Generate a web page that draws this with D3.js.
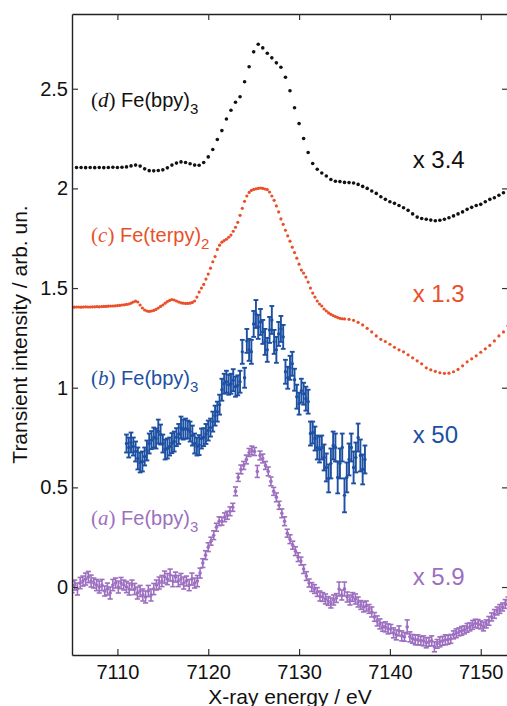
<!DOCTYPE html>
<html>
<head>
<meta charset="utf-8">
<title>Transient XANES</title>
<script src="https://cdnjs.cloudflare.com/ajax/libs/d3/7.8.5/d3.min.js"></script>
<style>
  body { margin: 0; background: #fff; }
</style>
</head>
<body>
<script>
// scan grids (eV): first energy and step
var gridD = {start: 7105.5, step: 0.5};
var gridCFine = {start: 7105, step: 0.25};
var gridCCoarse = {start: 7135.5, step: 0.5};
var gridB = {start: 7111, step: 0.25};
var gridA = {start: 7105, step: 0.3};

// (d) Fe(bpy)3, scaled x 3.4, offset
var dVals = [
  2.105,2.105,2.104,2.105,2.104,2.105,2.104,2.105,2.106,2.105,
  2.106,2.108,2.113,2.117,2.112,2.098,2.089,2.088,2.09,2.093,
  2.103,2.117,2.127,2.133,2.13,2.124,2.117,2.116,2.13,2.158,
  2.195,2.245,2.29,2.348,2.392,2.432,2.46,2.535,2.61,2.685,
  2.723,2.705,2.678,2.655,2.63,2.608,2.558,2.49,2.405,2.325,
  2.25,2.18,2.125,2.096,2.077,2.062,2.045,2.036,2.034,2.03,
  2.029,2.027,2.02,2.01,2.0,1.987,1.975,1.958,1.945,1.933,
  1.925,1.914,1.903,1.89,1.872,1.856,1.849,1.845,1.841,1.838,
  1.84,1.845,1.853,1.862,1.872,1.882,1.895,1.905,1.914,1.92,
  1.933,1.945,1.953,1.966,1.978
];

// (c) Fe(terpy)2, scaled x 1.3
var cFine = [
  1.405,1.404,1.405,1.405,1.404,1.405,1.406,1.405,1.405,1.406,
  1.406,1.407,1.406,1.407,1.408,1.408,1.409,1.41,1.41,1.411,
  1.412,1.413,1.415,1.416,1.418,1.42,1.424,1.43,1.434,1.43,
  1.415,1.40,1.39,1.385,1.383,1.385,1.388,1.393,1.40,1.408,
  1.415,1.424,1.432,1.438,1.442,1.44,1.435,1.43,1.426,1.424,
  1.423,1.423,1.424,1.428,1.435,1.455,
  1.48,1.50,1.518,1.545,1.57,1.60,1.632,1.658,1.694,1.715,
  1.73,1.738,1.745,1.755,1.766,1.785,1.805,1.83,1.865,1.90,
  1.935,1.962,1.98,1.99,1.995,1.998,2.0,2.002,2.0,1.997,
  1.994,1.982,1.962,1.94,1.912,1.882,1.847,1.82,1.79,1.762,
  1.735,1.705,1.678,1.65,1.62,1.59,1.575,1.555,1.53,1.50,
  1.475,1.455,1.435,1.42,1.41,1.395,1.385,1.375,1.368,1.362,
  1.357,1.352,1.348,1.346,1.345
];
var cCoarse = [
  1.343,1.338,1.328,1.315,1.298,1.28,1.26,1.243,1.232,1.218,
  1.203,1.19,1.18,1.165,1.15,1.135,1.12,1.10,1.09,1.082,
  1.075,1.072,1.073,1.08,1.092,1.11,1.13,1.145,1.16,1.178,
  1.195,1.212,1.235,1.26,1.28,1.31
];

// (b) Fe(bpy)3, scaled x 50
var bVals = [
  0.72,0.70,0.725,0.705,0.68,0.645,0.625,0.63,0.655,0.685,
  0.72,0.737,0.75,0.745,0.78,0.765,0.72,0.69,0.695,0.705,
  0.722,0.73,0.752,0.768,0.80,0.79,0.795,0.79,0.78,0.76,
  0.72,0.705,0.712,0.745,0.752,0.768,0.785,0.80,0.83,0.86,
  0.88,0.915,0.99,1.02,1.03,1.015,1.02,1.038,1.005,1.012,
  1.03,1.18,1.05,1.235,1.19,1.18,1.32,1.37,1.305,1.33,
  1.28,1.23,1.19,1.29,1.34,1.23,1.19,1.27,1.295,1.255,
  1.08,1.05,1.10,1.12,1.04,0.955,0.92,0.985,0.97,0.945,
  0.93,0.77,0.775,0.745,0.70,0.69,0.70,0.65,0.60,0.545,
  0.62,0.71,0.70,0.55,0.62,0.70,0.46,0.55,0.64,0.70,
  0.60,0.65,0.75,0.66,0.59,0.64
];
var bErr = [
  0.045,0.05,0.05,0.045,0.05,0.055,0.05,0.05,0.045,0.05,
  0.05,0.045,0.05,0.05,0.06,0.05,0.045,0.05,0.05,0.045,
  0.05,0.05,0.045,0.05,0.055,0.05,0.05,0.045,0.05,0.05,
  0.05,0.045,0.05,0.05,0.045,0.05,0.05,0.045,0.05,0.05,
  0.05,0.05,0.055,0.05,0.055,0.05,0.05,0.055,0.05,0.05,
  0.055,0.06,0.05,0.06,0.055,0.06,0.065,0.07,0.06,0.065,
  0.06,0.065,0.06,0.065,0.07,0.06,0.065,0.06,0.065,0.06,
  0.06,0.055,0.06,0.06,0.055,0.06,0.055,0.06,0.055,0.06,
  0.06,0.06,0.055,0.06,0.06,0.065,0.06,0.065,0.07,0.07,
  0.075,0.07,0.07,0.08,0.075,0.07,0.085,0.075,0.08,0.07,
  0.08,0.075,0.07,0.08,0.075,0.07
];

// (a) Fe(bpy)3, scaled x 5.9
var aVals = [
  0.00,0.01,-0.01,0.02,0.03,0.04,0.05,0.03,0.02,0.01,
  0.00,0.01,-0.02,-0.01,-0.03,0.01,0.02,0.00,0.02,0.01,
  0.00,-0.01,0.01,-0.01,-0.03,-0.02,-0.04,-0.05,-0.02,-0.04,
  -0.01,0.01,0.02,0.03,0.05,0.04,0.06,0.03,0.05,0.03,
  0.04,0.02,0.03,0.01,0.04,0.02,0.03,0.07,0.12,0.16,
  0.20,0.23,0.26,0.30,0.33,0.33,0.35,0.36,0.38,0.40,
  0.48,0.55,0.59,0.61,0.64,0.675,0.685,0.68,0.58,0.66,
  0.645,0.61,0.58,0.53,0.48,0.45,0.41,0.37,0.33,0.27,
  0.24,0.21,0.18,0.15,0.13,0.09,0.055,0.02,0.00,-0.01,
  -0.025,-0.045,-0.05,-0.06,-0.07,-0.08,-0.065,-0.055,-0.01,-0.04,
  -0.01,-0.05,-0.065,-0.05,-0.06,-0.075,-0.09,-0.1,-0.095,-0.11,
  -0.125,-0.15,-0.17,-0.185,-0.2,-0.2,-0.21,-0.21,-0.23,-0.24,
  -0.22,-0.245,-0.25,-0.2,-0.25,-0.26,-0.265,-0.265,-0.27,-0.27,
  -0.28,-0.275,-0.27,-0.3,-0.285,-0.275,-0.27,-0.265,-0.265,-0.26,
  -0.24,-0.232,-0.225,-0.22,-0.215,-0.205,-0.2,-0.19,-0.182,-0.185,
  -0.19,-0.198,-0.185,-0.17,-0.15,-0.135,-0.12,-0.11,-0.1,-0.085,
  -0.07
];
var aErr = [
  0.028,0.025,0.03,0.028,0.025,0.03,0.028,0.03,0.025,0.028,
  0.03,0.028,0.025,0.03,0.03,0.028,0.025,0.03,0.028,0.025,
  0.028,0.03,0.025,0.028,0.03,0.028,0.03,0.03,0.028,0.03,
  0.028,0.025,0.03,0.028,0.03,0.028,0.03,0.028,0.025,0.028,
  0.028,0.03,0.025,0.028,0.03,0.025,0.028,0.025,0.022,0.022,
  0.022,0.02,0.022,0.02,0.022,0.02,0.022,0.02,0.022,0.02,
  0.022,0.02,0.022,0.02,0.022,0.02,0.022,0.02,0.03,0.022,
  0.022,0.02,0.022,0.022,0.02,0.022,0.02,0.022,0.022,0.02,
  0.022,0.02,0.022,0.022,0.02,0.022,0.022,0.02,0.022,0.022,
  0.022,0.025,0.022,0.025,0.022,0.025,0.025,0.022,0.035,0.025,
  0.035,0.025,0.025,0.022,0.025,0.025,0.022,0.025,0.025,0.022,
  0.025,0.022,0.025,0.025,0.022,0.025,0.025,0.022,0.025,0.025,
  0.025,0.025,0.022,0.035,0.025,0.022,0.025,0.025,0.022,0.025,
  0.025,0.022,0.025,0.025,0.022,0.025,0.022,0.025,0.022,0.022,
  0.02,0.022,0.02,0.022,0.02,0.022,0.02,0.022,0.02,0.022,
  0.02,0.022,0.02,0.022,0.02,0.022,0.02,0.022,0.02,0.022,
  0.02
];

var xTicks = [7110, 7120, 7130, 7140, 7150];
var yTicks = [0, 0.5, 1, 1.5, 2, 2.5];
var tags = ["d", "c", "b", "a"];
var names = ["Fe(bpy)", "Fe(terpy)", "Fe(bpy)", "Fe(bpy)"];
var subs = ["3", "2", "3", "3"];
var factors = ["x 3.4", "x 1.3", "x 50", "x 5.9"];
var colors = ["#111111", "#e9502a", "#1d50a2", "#9d6fc0"];

var W = 507, H = 706;
var frame = {left: 72, top: 14, right: 508, bottom: 655};
var sans = "'Liberation Sans', Arial, Helvetica, sans-serif";
var serif = "'Liberation Serif', 'Times New Roman', serif";

var x = d3.scaleLinear().domain([7105, 7153]).range([frame.left, frame.right]);
var y = d3.scaleLinear().domain([-0.341, 2.875]).range([frame.bottom, frame.top]);

function pts(grid, vals, errs) {
  return vals.map(function(v, i) {
    return {e: grid.start + i * grid.step, v: v, err: errs ? errs[i] : 0};
  });
}

var svg = d3.select("body").append("svg")
  .attr("width", W).attr("height", H);

svg.append("clipPath").attr("id", "plotclip")
  .append("rect")
  .attr("x", frame.left).attr("y", frame.top)
  .attr("width", frame.right - frame.left).attr("height", frame.bottom - frame.top);

var plot = svg.append("g").attr("clip-path", "url(#plotclip)");

// error-bar series: vertical bar, two caps, small marker
function errSeries(data, color, sw, cap, r) {
  var g = plot.append("g").attr("stroke", color).attr("stroke-width", sw).attr("fill", color);
  data.forEach(function(d) {
    var cx = x(d.e), y0 = y(d.v - d.err), y1 = y(d.v + d.err);
    g.append("line").attr("x1", cx).attr("x2", cx).attr("y1", y0).attr("y2", y1);
    g.append("line").attr("x1", cx - cap).attr("x2", cx + cap).attr("y1", y0).attr("y2", y0);
    g.append("line").attr("x1", cx - cap).attr("x2", cx + cap).attr("y1", y1).attr("y2", y1);
    g.append("circle").attr("cx", cx).attr("cy", y(d.v)).attr("r", r).attr("stroke", "none");
  });
}

function dotSeries(data, color, r) {
  plot.append("g").selectAll("circle")
    .data(data).enter().append("circle")
    .attr("cx", function(d) { return x(d.e); })
    .attr("cy", function(d) { return y(d.v); })
    .attr("r", r)
    .attr("fill", color);
}

errSeries(pts(gridA, aVals, aErr), colors[3], 1.6, 2.6, 1.8);
errSeries(pts(gridB, bVals, bErr), colors[2], 1.9, 2.4, 1.7);
dotSeries(pts(gridCFine, cFine).concat(pts(gridCCoarse, cCoarse)), colors[1], 1.6);
dotSeries(pts(gridD, dVals), colors[0], 1.8);

// axes, ticks pointing inward
function styleAxis(g) {
  g.select(".domain").attr("stroke", "#222").attr("stroke-width", 1.4);
  g.selectAll(".tick line").attr("stroke", "#333").attr("stroke-width", 1.2);
  g.selectAll("text").attr("font-family", sans).attr("font-size", 20).attr("fill", "#111");
}

svg.append("g").attr("transform", "translate(0," + frame.bottom + ")")
  .call(d3.axisBottom(x).tickValues(xTicks).tickSize(-6).tickSizeOuter(0).tickPadding(10).tickFormat(d3.format("d")))
  .call(styleAxis);
svg.append("g").attr("transform", "translate(0," + frame.top + ")")
  .call(d3.axisTop(x).tickValues(xTicks).tickSize(-6).tickSizeOuter(0).tickFormat(""))
  .call(styleAxis);
svg.append("g").attr("transform", "translate(" + frame.left + ",0)")
  .call(d3.axisLeft(y).tickValues(yTicks).tickSize(-6).tickSizeOuter(0).tickPadding(4)
    .tickFormat(function(d) { return d === 0 ? "0" : d3.format("~g")(d); }))
  .call(styleAxis);
svg.append("g").attr("transform", "translate(" + frame.right + ",0)")
  .call(d3.axisRight(y).tickValues(yTicks).tickSize(-6).tickSizeOuter(0).tickFormat(""))
  .call(styleAxis);

// axis titles
svg.append("text")
  .attr("x", (frame.left + frame.right) / 2).attr("y", 704)
  .attr("text-anchor", "middle")
  .attr("font-family", sans).attr("font-size", 21).attr("fill", "#111")
  .text("X-ray energy / eV");
svg.append("text")
  .attr("transform", "translate(27," + ((frame.top + frame.bottom) / 2) + ") rotate(-90)")
  .attr("text-anchor", "middle")
  .attr("font-family", sans).attr("font-size", 21).attr("fill", "#111")
  .text("Transient intensity / arb. un.");

// series labels and scale factors (anchored in data coordinates)
var labelAt = [[7107.1, 2.408], [7107.1, 1.731], [7107.1, 1.013], [7107.1, 0.311]];
var factorAt = [[7142.5, 2.102], [7142.5, 1.431], [7142.5, 0.7225], [7142.5, 0.01]];

for (var i = 0; i < tags.length; i++) {
  var t = svg.append("text")
    .attr("x", x(labelAt[i][0])).attr("y", y(labelAt[i][1]))
    .attr("fill", colors[i]).attr("font-family", sans).attr("font-size", 20);
  t.append("tspan").attr("font-family", serif).attr("font-size", 21).text("(");
  t.append("tspan").attr("font-family", serif).attr("font-style", "italic").attr("font-size", 21).text(tags[i]);
  t.append("tspan").attr("font-family", serif).attr("font-size", 21).text(")");
  t.append("tspan").text(" " + names[i]);
  t.append("tspan").attr("dy", 7).attr("font-size", 15).text(subs[i]);

  svg.append("text")
    .attr("x", x(factorAt[i][0])).attr("y", y(factorAt[i][1]))
    .attr("fill", colors[i]).attr("font-family", sans).attr("font-size", 24)
    .text(factors[i]);
}
</script>
</body>
</html>
